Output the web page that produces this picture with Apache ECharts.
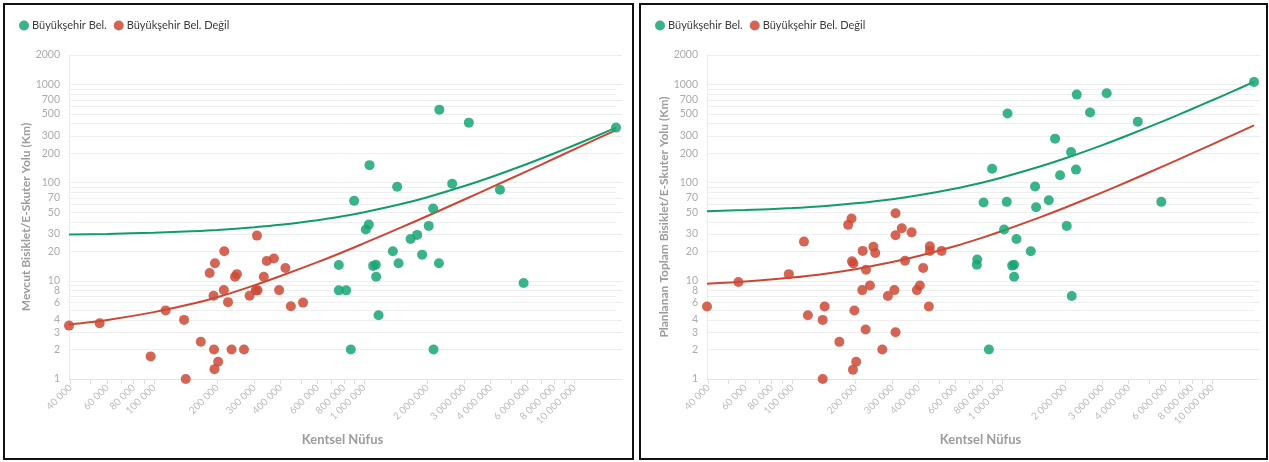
<!DOCTYPE html>
<html><head><meta charset="utf-8">
<script src="https://cdn.jsdelivr.net/npm/echarts@6/dist/echarts.min.js"></script>
<style>
html,body{margin:0;padding:0;background:#fff;width:1269px;height:462px;overflow:hidden;}
.box{position:absolute;border:2px solid #111;box-sizing:border-box;}
#chart{position:absolute;left:0;top:0;width:1269px;height:462px;}
</style></head><body>
<div class="box" style="left:3px;top:3px;width:631px;height:457px"></div>
<div class="box" style="left:639px;top:3px;width:629px;height:457px"></div>
<div id="chart"></div>
<script>
// ---------- DATA ----------
const seriesNames = ['Büyükşehir Bel.', 'Büyükşehir Bel. Değil'];
const xTitle = 'Kentsel Nüfus';
const yTitleLeft = 'Mevcut Bisiklet/E-Skuter Yolu (Km)';
const yTitleRight = 'Planlanan Toplam Bisiklet/E-Skuter Yolu (Km)';

const xMin = 39400, xMax = 15800000;
const yMin = 1, yMax = 2000;
const xLabelValues = [40000,60000,80000,100000,200000,300000,400000,600000,800000,1000000,2000000,3000000,4000000,6000000,8000000,10000000];
const xTickValues = [40000,50000,60000,70000,80000,90000,100000,200000,300000,400000,500000,600000,700000,800000,900000,1000000,2000000,3000000,4000000,5000000,6000000,7000000,8000000,9000000,10000000];
const yLabelValues = [1,2,3,4,6,8,10,20,30,50,70,100,200,300,500,700,1000,2000];
const yGridValues = [1,2,3,4,5,6,7,8,9,10,20,30,40,50,60,70,80,90,100,200,300,400,500,600,700,800,900,1000,2000];

// Left panel: existing (Mevcut)
const metroPopL = [15800000,2280000,3150000,1061000,1436000,2624000,4430000,896000,2130000,1053000,1019000,2030000,1663000,1788000,1370000,1888000,758000,1104000,1137000,1458000,2270000,1141000,758000,821000,5740000,1171000,864000,2140000];
const metroKmL  = [364,555,409,151,90.8,97.5,84.6,65.3,54.5,37.4,33.3,36.3,26.7,29.4,20.0,18.5,14.5,14.2,14.6,15.1,15.1,11.0,8.0,8.0,9.5,4.47,2.0,2.0];
const otherPopL = [39400,55100,96400,113600,139000,141600,167000,184000,195000,192000,193000,202000,194000,216000,215000,225000,234000,243000,248000,268000,285000,309000,305000,311000,333000,344000,372000,394000,422000,448000,512000];
const otherKmL  = [3.5,3.7,1.7,5.0,4.0,1.0,2.4,12.0,15.1,7.05,2.0,1.5,1.26,20.0,8.05,6.07,2.0,11.0,11.7,2.0,7.05,28.9,8.0,8.0,11.0,15.9,16.9,8.05,13.5,5.5,6.0];

// Right panel: planned total (Planlanan)
const metroPopR = [15800000,2265000,3145000,1061000,2620000,4420000,1786000,2128000,896000,1887000,2247000,1435000,816000,1052000,1667000,1451000,5720000,1022000,2030000,1170000,1369000,761000,758000,1116000,1140000,1140000,2145000,865000];
const metroKmR  = [1064,790,815,506,518,419,281,205,139,119,136,91.4,62.8,63.8,66.3,56.2,63.8,33.3,36.3,26.7,20.0,16.5,14.6,14.3,14.6,11.0,7.0,2.0];
const otherPopR = [39400,55600,96600,114000,119000,140000,143000,140000,168000,193000,196000,198000,202000,195000,217000,216000,225000,224000,235000,244000,249000,269000,286000,311000,307000,311000,333000,345000,371000,393000,406000,421000,448000,453000,453000,515000,185000,192000,311000];
const otherKmR  = [5.48,9.72,11.7,25.1,4.47,4.0,5.48,1.0,2.39,15.8,15.0,4.99,1.5,1.245,20.2,8.05,13.0,3.19,8.97,22.2,19.2,2.0,7.0,29.1,8.05,3.0,34.3,16.0,31.2,8.05,8.97,13.5,5.48,22.5,20.2,20.2,37.2,43.1,48.8];

// Trend lines
const trendPop = [39400,60000,100000,150000,200000,300000,400000,600000,800000,1000000,1500000,2000000,3000000,4000000,6000000,8000000,10000000,12500000,15800000];
const trendMetroL = [29.6,30.1,30.9,32.0,33.0,35.2,37.3,41.5,45.8,50.0,60.6,71.2,92.4,113.6,156,198.4,240.8,293.8,363.8];
const trendOtherL = [3.6,4.0,4.8,5.8,6.8,9.0,11.2,15.5,19.8,24.2,35.0,45.8,67.4,89.0,132,175.5,218.7,272.7,344];
const trendMetroR = [51.2,52.6,55.1,58.3,61.6,68.0,74.4,87.3,100.1,113.0,145.2,177.3,241.6,305.9,434.5,563.1,691.7,852.5,1064.6];
const trendOtherR = [9.34,9.84,10.79,11.98,13.16,15.54,17.92,22.67,27.43,32.2,44.1,55.95,79.7,103.5,151.0,198.6,246.1,305.5,384.0];

// ---------- CHART ----------
const FONT = 'Lato, "Noto Sans", sans-serif';
const GREEN = '#17a673', RED = '#cc4a37';
const GREEN_LINE = '#129c6b', RED_LINE = '#cc4733';
const fmtPop = v => String(Math.round(v)).replace(/\B(?=(\d{3})+(?!\d))/g, ' ');
const pairs = (xs, ys) => xs.map((x, i) => [x, ys[i]]);

function xAxis(gi) {
  return {
    type: 'log', logBase: 10, gridIndex: gi, min: xMin, max: xMax,
    name: xTitle, nameLocation: 'middle', nameGap: 53,
    nameTextStyle: { color: '#9c9c9c', fontWeight: 'bold', fontSize: 13, fontFamily: FONT },
    axisLine: { show: true, lineStyle: { color: '#e4e4e4', width: 1 } },
    axisTick: { show: true, customValues: xTickValues, length: 5, lineStyle: { color: '#e0e0e0' } },
    axisLabel: { customValues: xLabelValues, rotate: 45, formatter: fmtPop, color: '#bdbdbd', fontSize: 10, fontFamily: FONT, margin: 7 },
    splitLine: { show: false }
  };
}
function yAxisMain(gi, title) {
  return {
    type: 'log', logBase: 10, gridIndex: gi, min: yMin, max: yMax,
    name: title, nameLocation: 'middle', nameGap: 36,
    nameTextStyle: { color: '#9c9c9c', fontWeight: 'bold', fontSize: 12, fontFamily: FONT },
    axisLine: { show: true, lineStyle: { color: '#ececec' } },
    axisTick: { show: false, customValues: yGridValues },
    axisLabel: { customValues: yLabelValues, formatter: v => String(Math.round(v)), color: '#ababab', fontSize: 10.5, fontFamily: FONT, margin: 9 },
    splitLine: { show: true, lineStyle: { color: '#efefef', width: 1 } }
  };
}
function yAxisAux(gi) {
  return {
    type: 'log', logBase: 10, gridIndex: gi, min: yMin, max: yMax,
    axisLine: { show: false },
    axisTick: { show: true, customValues: yLabelValues, length: 6, lineStyle: { color: '#ececec' } },
    axisLabel: { show: false },
    splitLine: { show: false }
  };
}
function scatter(name, xi, yi, xs, ys, color) {
  return { type: 'scatter', name, xAxisIndex: xi, yAxisIndex: yi, data: pairs(xs, ys),
    symbolSize: 10, itemStyle: { color, opacity: 0.85 }, z: 3 };
}
function trend(name, xi, yi, ys, color) {
  return { type: 'line', name, xAxisIndex: xi, yAxisIndex: yi, data: pairs(trendPop, ys),
    showSymbol: false, smooth: 0.3, silent: true, lineStyle: { color, width: 2 }, itemStyle: { color }, z: 2 };
}
const legendBase = {
  data: seriesNames, icon: 'circle', itemWidth: 10, itemHeight: 10, itemGap: 7, top: 15,
  textStyle: { fontSize: 11, color: '#3a3a3a', fontFamily: FONT, padding: [0, 0, 0, -2] }
};

const chart = echarts.init(document.getElementById('chart'), null, { renderer: 'canvas' });
chart.setOption({
  animation: false,
  legend: [Object.assign({ left: 14 }, legendBase), Object.assign({ left: 650 }, legendBase)],
  grid: [
    { left: 69, top: 55, width: 547, height: 324, outerBoundsMode: 'none' },
    { left: 707, top: 55, width: 547, height: 324, outerBoundsMode: 'none' }
  ],
  xAxis: [xAxis(0), xAxis(1)],
  yAxis: [yAxisMain(0, yTitleLeft), yAxisAux(0), yAxisMain(1, yTitleRight), yAxisAux(1)],
  series: [
    trend('trendMetroL', 0, 0, trendMetroL, GREEN_LINE),
    trend('trendOtherL', 0, 0, trendOtherL, RED_LINE),
    scatter(seriesNames[0], 0, 0, metroPopL, metroKmL, GREEN),
    scatter(seriesNames[1], 0, 0, otherPopL, otherKmL, RED),
    trend('trendMetroR', 1, 2, trendMetroR, GREEN_LINE),
    trend('trendOtherR', 1, 2, trendOtherR, RED_LINE),
    scatter(seriesNames[0], 1, 2, metroPopR, metroKmR, GREEN),
    scatter(seriesNames[1], 1, 2, otherPopR, otherKmR, RED)
  ]
});
</script></body></html>
